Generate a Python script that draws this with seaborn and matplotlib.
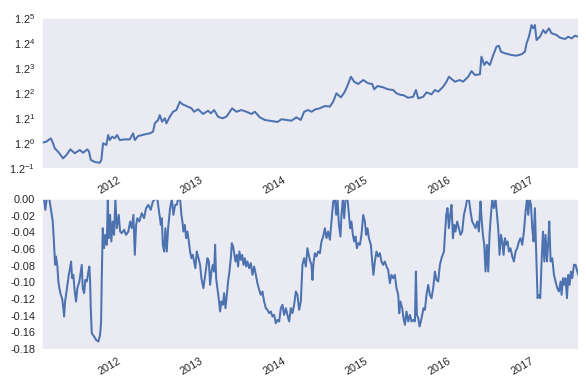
import matplotlib
matplotlib.use('Agg')
import matplotlib.dates as mdates
import matplotlib.pyplot as plt
import numpy as np
import pandas as pd
import seaborn as sns

# equity curve (decimal year, value)
eq_years = [
    2011.031, 2011.084, 2011.137, 2011.165, 2011.185, 2011.225, 2011.286, 2011.326, 2011.374, 2011.427,
    2011.488, 2011.528, 2011.580, 2011.600, 2011.621, 2011.669, 2011.730, 2011.749, 2011.770, 2011.810,
    2011.831, 2011.851, 2011.879, 2011.912, 2011.939, 2011.972, 2012.033, 2012.093, 2012.133, 2012.154,
    2012.194, 2012.275, 2012.335, 2012.375, 2012.396, 2012.436, 2012.456, 2012.484, 2012.517, 2012.536,
    2012.577, 2012.617, 2012.657, 2012.699, 2012.726, 2012.778, 2012.839, 2012.872, 2012.920, 2012.981,
    2013.041, 2013.074, 2013.114, 2013.162, 2013.214, 2013.262, 2013.304, 2013.332, 2013.384, 2013.444,
    2013.505, 2013.565, 2013.607, 2013.667, 2013.728, 2013.808, 2013.880, 2013.929, 2013.989, 2014.050,
    2014.110, 2014.163, 2014.203, 2014.252, 2014.292, 2014.340, 2014.393, 2014.454, 2014.515, 2014.554,
    2014.594, 2014.648, 2014.696, 2014.736, 2014.769, 2014.809, 2014.857, 2014.918, 2014.978, 2015.027,
    2015.051, 2015.091, 2015.160, 2015.220, 2015.281, 2015.321, 2015.374, 2015.402, 2015.462, 2015.523,
    2015.556, 2015.584, 2015.644, 2015.684, 2015.745, 2015.786, 2015.826, 2015.886, 2015.926, 2015.955,
    2015.987, 2016.028, 2016.088, 2016.128, 2016.189, 2016.229, 2016.270, 2016.331, 2016.349, 2016.383,
    2016.410, 2016.451, 2016.492, 2016.531, 2016.560, 2016.585, 2016.633, 2016.713, 2016.774, 2016.834,
    2016.875, 2016.895, 2016.924, 2016.955, 2016.976, 2016.996, 2017.016, 2017.057, 2017.097, 2017.125,
    2017.166, 2017.197, 2017.258, 2017.299, 2017.360, 2017.400, 2017.440, 2017.481, 2017.518,
]
eq_values = [
    1.002, 1.010, 1.035, 0.998, 0.962, 0.939, 0.894, 0.916, 0.955, 0.928,
    0.950, 0.932, 0.955, 0.939, 0.884, 0.871, 0.866, 0.884, 0.998, 0.986,
    1.060, 1.022, 1.047, 1.035, 1.060, 1.022, 1.027, 1.027, 1.073, 1.022,
    1.052, 1.065, 1.073, 1.086, 1.154, 1.183, 1.226, 1.168, 1.198, 1.154,
    1.211, 1.256, 1.272, 1.351, 1.329, 1.310, 1.288, 1.256, 1.279, 1.236,
    1.266, 1.242, 1.272, 1.211, 1.198, 1.211, 1.256, 1.288, 1.256, 1.272,
    1.256, 1.236, 1.256, 1.206, 1.183, 1.174, 1.166, 1.189, 1.183, 1.177,
    1.206, 1.183, 1.256, 1.272, 1.256, 1.279, 1.288, 1.310, 1.304, 1.351,
    1.437, 1.395, 1.454, 1.538, 1.622, 1.564, 1.538, 1.583, 1.546, 1.538,
    1.479, 1.515, 1.501, 1.479, 1.472, 1.437, 1.419, 1.419, 1.391, 1.401,
    1.472, 1.385, 1.401, 1.447, 1.426, 1.472, 1.454, 1.508, 1.564, 1.622,
    1.595, 1.564, 1.583, 1.564, 1.622, 1.690, 1.642, 1.650, 1.877, 1.767,
    1.809, 1.767, 1.900, 2.018, 2.033, 1.946, 1.924, 1.900, 1.891, 1.910,
    1.946, 2.068, 2.171, 2.364, 2.308, 2.364, 2.120, 2.171, 2.280, 2.227,
    2.308, 2.227, 2.199, 2.156, 2.135, 2.171, 2.145, 2.187, 2.171,
]

# drawdown (decimal year, value)
dd_years = [
    2011.031, 2011.056, 2011.071, 2011.088, 2011.120, 2011.137, 2011.161, 2011.177, 2011.189, 2011.201,
    2011.217, 2011.229, 2011.241, 2011.258, 2011.274, 2011.289, 2011.298, 2011.310, 2011.322, 2011.338,
    2011.355, 2011.370, 2011.383, 2011.395, 2011.410, 2011.427, 2011.443, 2011.459, 2011.483, 2011.500,
    2011.512, 2011.524, 2011.540, 2011.556, 2011.573, 2011.592, 2011.604, 2011.613, 2011.621, 2011.633,
    2011.661, 2011.685, 2011.713, 2011.734, 2011.746, 2011.754, 2011.766, 2011.782, 2011.798, 2011.815,
    2011.827, 2011.839, 2011.855, 2011.870, 2011.887, 2011.903, 2011.919, 2011.936, 2011.960, 2011.976,
    2011.996, 2012.024, 2012.048, 2012.076, 2012.097, 2012.117, 2012.137, 2012.154, 2012.170, 2012.185,
    2012.209, 2012.238, 2012.266, 2012.290, 2012.318, 2012.347, 2012.372, 2012.400, 2012.427, 2012.452,
    2012.469, 2012.481, 2012.493, 2012.509, 2012.524, 2012.541, 2012.557, 2012.581, 2012.602, 2012.621,
    2012.642, 2012.662, 2012.678, 2012.702, 2012.718, 2012.730, 2012.742, 2012.759, 2012.775, 2012.791,
    2012.808, 2012.823, 2012.839, 2012.856, 2012.872, 2012.887, 2012.904, 2012.920, 2012.944, 2012.960,
    2012.984, 2013.001, 2013.017, 2013.033, 2013.050, 2013.065, 2013.081, 2013.098, 2013.114, 2013.126,
    2013.138, 2013.154, 2013.174, 2013.186, 2013.202, 2013.219, 2013.235, 2013.251, 2013.268, 2013.283,
    2013.299, 2013.316, 2013.328, 2013.344, 2013.356, 2013.372, 2013.389, 2013.404, 2013.420, 2013.437,
    2013.453, 2013.469, 2013.486, 2013.501, 2013.517, 2013.538, 2013.558, 2013.578, 2013.598, 2013.619,
    2013.638, 2013.659, 2013.679, 2013.699, 2013.719, 2013.740, 2013.759, 2013.780, 2013.800, 2013.820,
    2013.840, 2013.861, 2013.880, 2013.901, 2013.921, 2013.941, 2013.961, 2013.982, 2014.001, 2014.022,
    2014.042, 2014.062, 2014.082, 2014.103, 2014.122, 2014.143, 2014.163, 2014.183, 2014.203, 2014.224,
    2014.243, 2014.272, 2014.292, 2014.304, 2014.316, 2014.333, 2014.352, 2014.373, 2014.394, 2014.413,
    2014.434, 2014.454, 2014.474, 2014.494, 2014.515, 2014.534, 2014.555, 2014.575, 2014.591, 2014.607,
    2014.624, 2014.643, 2014.655, 2014.672, 2014.688, 2014.704, 2014.728, 2014.745, 2014.760, 2014.776,
    2014.793, 2014.809, 2014.825, 2014.842, 2014.857, 2014.878, 2014.897, 2014.918, 2014.938, 2014.954,
    2014.970, 2014.987, 2015.011, 2015.027, 2015.042, 2015.059, 2015.079, 2015.099, 2015.120, 2015.139,
    2015.160, 2015.180, 2015.200, 2015.220, 2015.241, 2015.260, 2015.281, 2015.301, 2015.321, 2015.342,
    2015.354, 2015.369, 2015.390, 2015.406, 2015.423, 2015.442, 2015.463, 2015.483, 2015.503, 2015.523,
    2015.544, 2015.556, 2015.568, 2015.584, 2015.600, 2015.616, 2015.632, 2015.648, 2015.665, 2015.684,
    2015.705, 2015.725, 2015.745, 2015.765, 2015.786, 2015.805, 2015.826, 2015.846, 2015.866, 2015.895,
    2015.907, 2015.923, 2015.938, 2015.955, 2015.971, 2015.987, 2016.004, 2016.020, 2016.035, 2016.056,
    2016.076, 2016.096, 2016.116, 2016.137, 2016.156, 2016.177, 2016.197, 2016.217, 2016.237, 2016.258,
    2016.277, 2016.298, 2016.318, 2016.338, 2016.350, 2016.367, 2016.383, 2016.398, 2016.415, 2016.431,
    2016.447, 2016.464, 2016.480, 2016.500, 2016.520, 2016.537, 2016.552, 2016.568, 2016.585, 2016.601,
    2016.617, 2016.633, 2016.649, 2016.665, 2016.682, 2016.701, 2016.722, 2016.742, 2016.762, 2016.782,
    2016.803, 2016.822, 2016.843, 2016.863, 2016.883, 2016.900, 2016.915, 2016.931, 2016.948, 2016.964,
    2016.980, 2016.996, 2017.012, 2017.028, 2017.045, 2017.061, 2017.077, 2017.094, 2017.110, 2017.125,
    2017.142, 2017.158, 2017.170, 2017.186, 2017.206, 2017.227, 2017.246, 2017.267, 2017.287, 2017.307,
    2017.319, 2017.336, 2017.351, 2017.367, 2017.384, 2017.400, 2017.416, 2017.432, 2017.448, 2017.469,
    2017.488, 2017.509, 2017.521,
]
dd_values = [
    0.0, 0.0, -0.013, 0.0, 0.0, -0.011, -0.027, -0.055, -0.079, -0.069,
    -0.081, -0.099, -0.107, -0.115, -0.119, -0.131, -0.141, -0.123, -0.115, -0.103,
    -0.091, -0.083, -0.075, -0.095, -0.091, -0.111, -0.123, -0.107, -0.099, -0.087,
    -0.079, -0.107, -0.113, -0.097, -0.099, -0.087, -0.081, -0.099, -0.131, -0.161,
    -0.165, -0.169, -0.171, -0.163, -0.147, -0.095, -0.035, -0.059, -0.043, -0.055,
    0.0, -0.047, -0.019, -0.051, -0.027, -0.043, 0.0, -0.035, -0.019, -0.039,
    -0.041, -0.037, -0.043, -0.039, -0.027, -0.035, -0.019, -0.067, -0.031, -0.023,
    -0.027, -0.017, -0.023, -0.011, -0.007, -0.013, -0.003, 0.0, 0.0, -0.019,
    -0.031, -0.023, -0.055, -0.063, -0.035, -0.063, -0.035, -0.011, 0.0, -0.019,
    -0.007, -0.007, 0.0, 0.0, -0.019, -0.027, -0.039, -0.031, -0.047, -0.039,
    -0.051, -0.063, -0.071, -0.067, -0.075, -0.083, -0.063, -0.069, -0.079, -0.095,
    -0.107, -0.095, -0.083, -0.071, -0.075, -0.103, -0.087, -0.079, -0.087, -0.055,
    -0.095, -0.107, -0.123, -0.135, -0.123, -0.127, -0.113, -0.131, -0.115, -0.099,
    -0.087, -0.071, -0.053, -0.057, -0.065, -0.075, -0.067, -0.081, -0.063, -0.073,
    -0.067, -0.079, -0.071, -0.081, -0.075, -0.083, -0.077, -0.091, -0.081, -0.091,
    -0.101, -0.109, -0.115, -0.111, -0.123, -0.131, -0.133, -0.137, -0.135, -0.141,
    -0.139, -0.149, -0.145, -0.147, -0.131, -0.127, -0.139, -0.131, -0.139, -0.147,
    -0.131, -0.137, -0.127, -0.111, -0.115, -0.133, -0.123, -0.079, -0.071, -0.081,
    -0.059, -0.073, -0.079, -0.097, -0.077, -0.065, -0.069, -0.063, -0.065, -0.051,
    -0.045, -0.035, -0.047, -0.039, -0.049, -0.027, -0.003, 0.0, -0.019, 0.0,
    -0.031, -0.045, -0.019, 0.0, -0.023, 0.0, 0.0, -0.019, -0.035, -0.027,
    -0.043, -0.051, -0.045, -0.059, -0.053, -0.055, -0.043, -0.019, -0.027, -0.043,
    -0.035, -0.047, -0.055, -0.075, -0.091, -0.075, -0.063, -0.069, -0.065, -0.075,
    -0.079, -0.075, -0.081, -0.085, -0.101, -0.091, -0.095, -0.091, -0.107, -0.115,
    -0.137, -0.123, -0.131, -0.143, -0.151, -0.135, -0.147, -0.139, -0.147, -0.145,
    -0.147, -0.087, -0.139, -0.143, -0.153, -0.147, -0.139, -0.131, -0.133, -0.115,
    -0.103, -0.115, -0.119, -0.107, -0.087, -0.097, -0.099, -0.079, -0.071, -0.063,
    -0.043, -0.019, -0.011, -0.035, -0.019, -0.007, -0.047, -0.031, -0.039, -0.027,
    -0.035, -0.043, -0.039, -0.019, -0.011, 0.0, 0.0, -0.015, -0.027, -0.031,
    -0.035, -0.027, -0.039, -0.003, -0.023, -0.043, -0.055, -0.087, -0.055, -0.087,
    -0.043, -0.019, 0.0, -0.011, 0.0, -0.019, -0.035, -0.067, -0.043, -0.051,
    -0.067, -0.047, -0.055, -0.051, -0.063, -0.059, -0.069, -0.075, -0.063, -0.059,
    -0.051, -0.047, -0.055, -0.039, -0.015, 0.0, -0.019, 0.0, -0.007, -0.035,
    -0.051, -0.011, -0.063, -0.119, -0.115, -0.119, -0.075, -0.039, -0.075, -0.043,
    -0.075, -0.051, -0.027, -0.075, -0.071, -0.091, -0.099, -0.107, -0.111, -0.099,
    -0.115, -0.095, -0.103, -0.095, -0.119, -0.091, -0.103, -0.087, -0.095, -0.079,
    -0.079, -0.087, -0.091,
]

eq_tick_powers = [-1, 0, 1, 2, 3, 4, 5]
dd_ticks = [-0.18, -0.16, -0.14, -0.12, -0.10, -0.08, -0.06, -0.04, -0.02, 0.00]


def to_dates(years):
    years = np.asarray(years)
    return pd.Timestamp('2011-01-01') + pd.to_timedelta((years - 2011) * 365.25, unit='D')


def main():
    sns.set_style('dark')
    plt.rcParams['font.family'] = ['Liberation Sans', 'DejaVu Sans']

    eq = pd.DataFrame({'date': to_dates(eq_years), 'value': eq_values})
    dd = pd.DataFrame({'date': to_dates(dd_years), 'value': dd_values})

    fig = plt.figure(figsize=(586 / 72, 391 / 72), dpi=72)
    ax1 = fig.add_axes([0.0717, 0.5703, 0.9147, 0.3836])
    ax2 = fig.add_axes([0.0717, 0.1074, 0.9147, 0.3836])

    color = '#4c72b0'
    sns.lineplot(data=eq, x='date', y='value', ax=ax1, color=color, linewidth=2, estimator=None)
    sns.lineplot(data=dd, x='date', y='value', ax=ax2, color=color, linewidth=2, estimator=None)

    ax1.set_yscale('log', base=1.2)
    ax1.set_yticks([1.2 ** p for p in eq_tick_powers])
    ax1.yaxis.set_minor_locator(plt.NullLocator())
    ax1.set_ylim(1.2 ** -1, 1.2 ** 5)

    ax2.set_yticks(dd_ticks)
    ax2.yaxis.set_major_formatter(plt.FormatStrFormatter('%.2f'))
    ax2.set_ylim(-0.18, 0.0)

    xmin, xmax = to_dates([eq_years[0], eq_years[-1]])
    for ax in (ax1, ax2):
        ax.set_xlim(xmin, xmax)
        ax.xaxis.set_major_locator(mdates.YearLocator())
        ax.xaxis.set_major_formatter(mdates.DateFormatter('%Y'))
        ax.set_xlabel('')
        ax.set_ylabel('')
        ax.tick_params(labelsize=11, colors='.15')
        plt.setp(ax.get_xticklabels(), rotation=30, ha='right')

    fig.savefig('out.png', dpi=72)


if __name__ == '__main__':
    main()
